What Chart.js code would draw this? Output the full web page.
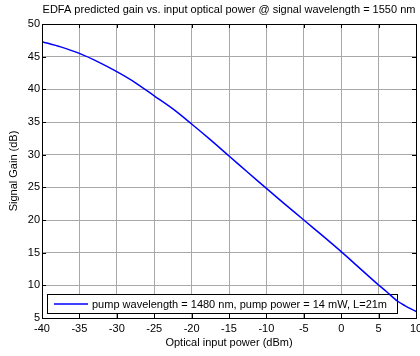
<!DOCTYPE html>
<html><head><meta charset="utf-8">
<script src="https://cdn.jsdelivr.net/npm/chart.js@4/dist/chart.umd.min.js"></script>
<style>html,body{margin:0;padding:0;background:#fff}#wrap{width:420px;height:356px}</style>
</head><body><div id="wrap"><canvas id="c" width="420" height="356"></canvas></div>
<script>
const inputPower = [-40, -37.5, -35, -32.5, -30, -27.5, -25, -22.5, -20, -17.5, -15, -12.5, -10, -7.5, -5, -2.5, 0, 2.5, 5, 6, 7.5, 8.5, 10];
const signalGain = [47.3, 46.5, 45.5, 44.2, 42.7, 41.0, 39.0, 37.0, 34.7, 32.3, 29.8, 27.3, 24.85, 22.4, 20.0, 17.6, 15.15, 12.6, 10.05, 9.1, 7.6, 6.9, 6.0];
const xTicks = [-40, -35, -30, -25, -20, -15, -10, -5, 0, 5, 10];
const yTicks = [5, 10, 15, 20, 25, 30, 35, 40, 45, 50];
const seriesLabel = 'pump wavelength = 1480 nm, pump power = 14 mW, L=21m';
const titleText = 'EDFA predicted gain vs. input optical power @ signal wavelength = 1550 nm';

const FONT = 'Liberation Sans, Arial, sans-serif';

const boxPlugin = {
  id: 'matlabBox',
  beforeDatasetsDraw(chart) {
    const ca = chart.chartArea, ctx = chart.ctx;
    const lx = ca.left + 5, lw = ca.right - 19 - lx, lh = 19, ly = ca.bottom - 5 - lh;
    ctx.save();
    ctx.fillStyle = '#fff';
    ctx.fillRect(lx, ly, lw, lh);
    ctx.strokeStyle = '#000'; ctx.lineWidth = 1;
    ctx.strokeRect(lx + 0.5, ly + 0.5, lw, lh);
    ctx.strokeStyle = '#0000ff'; ctx.lineWidth = 1.5;
    ctx.beginPath(); ctx.moveTo(lx + 7, ly + lh / 2 + 0.5); ctx.lineTo(lx + 41, ly + lh / 2 + 0.5); ctx.stroke();
    ctx.fillStyle = '#000'; ctx.font = '11px ' + FONT; ctx.textBaseline = 'middle'; ctx.textAlign = 'left';
    ctx.fillText(seriesLabel, lx + 45, ly + lh / 2 + 1);
    ctx.restore();
  },
  afterDraw(chart) {
    const ca = chart.chartArea, ctx = chart.ctx;
    const xs = chart.scales.x, ys = chart.scales.y;
    ctx.save();
    ctx.strokeStyle = '#000'; ctx.lineWidth = 1;
    ctx.strokeRect(Math.round(ca.left) + 0.5, Math.round(ca.top) + 0.5, Math.round(ca.right - ca.left), Math.round(ca.bottom - ca.top));
    ctx.beginPath();
    const tl = 4;
    xTicks.forEach(v => {
      const px = Math.round(xs.getPixelForValue(v)) + 0.5;
      ctx.moveTo(px, ca.bottom); ctx.lineTo(px, ca.bottom - tl);
      ctx.moveTo(px, ca.top); ctx.lineTo(px, ca.top + tl);
    });
    yTicks.forEach(v => {
      const py = Math.round(ys.getPixelForValue(v)) + 0.5;
      ctx.moveTo(ca.left, py); ctx.lineTo(ca.left + tl, py);
      ctx.moveTo(ca.right, py); ctx.lineTo(ca.right - tl, py);
    });
    ctx.stroke();
    ctx.restore();
  }
};

new Chart(document.getElementById('c'), {
  type: 'line',
  data: {
    datasets: [{
      label: seriesLabel,
      data: inputPower.map((x, i) => ({x: x, y: signalGain[i]})),
      borderColor: '#0000ff',
      borderWidth: 1.5,
      pointRadius: 0,
      tension: 0.3,
      fill: false
    }]
  },
  options: {
    responsive: false,
    animation: false,
    devicePixelRatio: 1,
    layout: {padding: {left: 0, right: 4, top: 0, bottom: 0}},
    plugins: {
      legend: {display: false},
      tooltip: {enabled: false},
      title: {
        display: true, text: titleText, fullSize: false,
        color: '#000', font: {family: FONT, size: 11, weight: 'normal'},
        padding: {top: 3, bottom: 7.8}
      }
    },
    scales: {
      x: {
        type: 'linear', min: -40, max: 10,
        afterBuildTicks: s => { s.ticks = xTicks.map(v => ({value: v})); },
        afterFit: s => { s.height = 38; s.paddingLeft = 0; s.paddingRight = 0; },
        ticks: {color: '#000', font: {family: FONT, size: 11}, padding: 4, maxRotation: 0, autoSkip: false},
        grid: {color: '#a8a8a8', lineWidth: 1, drawTicks: false},
        border: {display: false},
        title: {display: true, text: 'Optical input power (dBm)', color: '#000', font: {family: FONT, size: 11}, padding: {top: 0, bottom: 6}}
      },
      y: {
        type: 'linear', min: 5, max: 50,
        afterBuildTicks: s => { s.ticks = yTicks.map(v => ({value: v})); },
        afterFit: s => { s.width = 42; s.paddingTop = 0; s.paddingBottom = 0; },
        ticks: {color: '#000', font: {family: FONT, size: 11}, padding: 2, autoSkip: false},
        grid: {color: '#a8a8a8', lineWidth: 1, drawTicks: false},
        border: {display: false},
        title: {display: true, text: 'Signal Gain (dB)', color: '#000', font: {family: FONT, size: 11}, padding: {top: 7, bottom: 0}}
      }
    }
  },
  plugins: [boxPlugin]
});
</script></body></html>
